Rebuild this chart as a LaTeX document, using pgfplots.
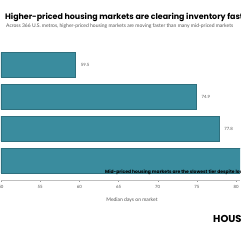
\documentclass[border=0pt]{standalone}
\usepackage{pgfplots}
\pgfplotsset{compat=1.18}
\usepackage{fontspec}
\setmainfont{Lato}
\newfontfamily\pop{Poppins}
\definecolor{barc}{HTML}{3A8C9E}
\definecolor{txtg}{HTML}{555555}
\begin{document}
\begin{tikzpicture}[x=1pt,y=1pt]
\path[use as bounding box] (0,0) rectangle (240,240);
\clip (0,0) rectangle (240,240);
\fill[white] (0,0) rectangle (240,240);
\begin{axis}[
  at={(1pt,60pt)}, anchor=south west,
  scale only axis, width=239pt, height=132.6pt,
  xbar, bar width=25pt,
  xmin=50, xmax=80.5, ymin=-0.61, ymax=3.55,
  axis x line*=bottom, axis y line=none,
  axis line style={draw=black!25},
  xtick={50,55,60,65,70,75,80},
  tick align=outside, major tick length=2pt,
  tick style={draw=black!40},
  ticklabel style={font=\fontsize{4.3}{5}\selectfont, text=txtg},
  /pgf/number format/assume math mode=true,
  ytick=\empty,
  nodes near coords={\pgfmathprintnumber[fixed,precision=1,fixed zerofill]{\pgfplotspointmeta}},
  nodes near coords style={font=\fontsize{4.3}{5}\selectfont, text=txtg, anchor=west, xshift=2pt},
]
\addplot[fill=barc, draw=barc!80!black] coordinates {(59.5,3) (74.9,2) (77.8,1) (82.0,0)};
\end{axis}
\node[anchor=base west, font=\pop\bfseries\fontsize{7.9}{9}\selectfont, inner sep=0] at (5,220) {Higher-priced housing markets are clearing inventory faster};
\node[anchor=base west, font=\fontsize{5}{6}\selectfont, text=txtg, inner sep=0] at (6,212) {Across 366 U.S. metros, higher-priced housing markets are moving faster than many mid-priced markets};
\node[anchor=base west, font=\pop\bfseries\fontsize{4.5}{5}\selectfont, inner sep=0] at (105,66) {Mid-priced housing markets are the slowest tier despite lower prices};
\node[anchor=base, font=\fontsize{5}{6}\selectfont, text=txtg, inner sep=0] at (132,38) {Median days on market};
\node[anchor=base west, font=\pop\bfseries\fontsize{10}{11}\selectfont, inner sep=0] at (213,17) {HOUSINGWIRE};
\end{tikzpicture}
\end{document}
